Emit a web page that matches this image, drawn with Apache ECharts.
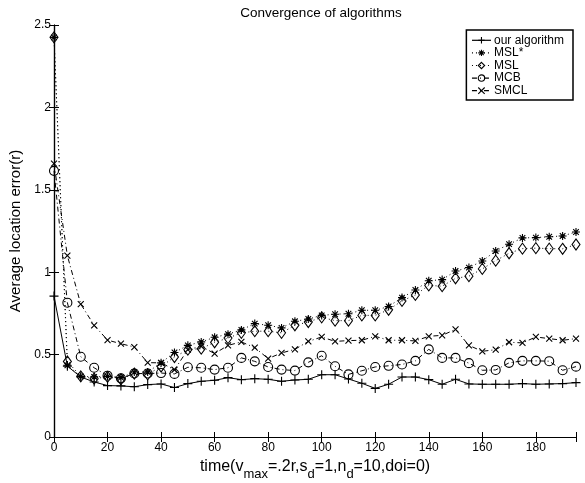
<!DOCTYPE html>
<html>
<head>
<meta charset="utf-8">
<script src="https://cdn.jsdelivr.net/npm/echarts@6/dist/echarts.min.js"></script>
<style>
  html, body { margin: 0; padding: 0; background: #fff; }
  #chart { width: 585px; height: 483px; }
</style>
</head>
<body>
<div id="chart"></div>
<script>
// time steps 0..195
const times = [0, 5, 10, 15, 20, 25, 30, 35, 40, 45, 50, 55, 60, 65, 70, 75, 80, 85, 90, 95,
    100, 105, 110, 115, 120, 125, 130, 135, 140, 145, 150, 155, 160, 165, 170, 175, 180, 185, 190, 195];

const ourAlgorithm = [0.855, 0.43, 0.364, 0.334, 0.312, 0.31, 0.305, 0.318, 0.322, 0.30,
    0.324, 0.338, 0.344, 0.36, 0.348, 0.354, 0.35, 0.338, 0.346, 0.35,
    0.378, 0.378, 0.352, 0.326, 0.295, 0.32, 0.364, 0.364, 0.348, 0.32,
    0.35, 0.322, 0.32, 0.32, 0.32, 0.324, 0.32, 0.322, 0.324, 0.33];

const mslStar = [2.425, 0.435, 0.368, 0.365, 0.368, 0.36, 0.394, 0.394, 0.45, 0.513,
    0.556, 0.577, 0.605, 0.624, 0.65, 0.688, 0.678, 0.662, 0.702, 0.716,
    0.738, 0.745, 0.748, 0.769, 0.769, 0.792, 0.846, 0.892, 0.948, 0.955,
    1.007, 1.028, 1.068, 1.129, 1.17, 1.208, 1.21, 1.215, 1.22, 1.244];

const msl = [2.425, 0.458, 0.368, 0.354, 0.365, 0.35, 0.385, 0.38, 0.428, 0.485,
    0.53, 0.536, 0.575, 0.6, 0.632, 0.642, 0.642, 0.632, 0.678, 0.698,
    0.726, 0.706, 0.706, 0.738, 0.738, 0.772, 0.826, 0.862, 0.92, 0.915,
    0.963, 0.976, 1.02, 1.07, 1.115, 1.143, 1.146, 1.143, 1.142, 1.168];

const mcb = [1.615, 0.815, 0.487, 0.42, 0.372, 0.356, 0.385, 0.385, 0.388, 0.383,
    0.423, 0.42, 0.409, 0.42, 0.48, 0.459, 0.425, 0.409, 0.403, 0.453,
    0.493, 0.429, 0.38, 0.402, 0.425, 0.432, 0.44, 0.462, 0.532, 0.48,
    0.48, 0.448, 0.405, 0.407, 0.45, 0.462, 0.462, 0.46, 0.405, 0.427];

const smcl = [1.659, 1.10, 0.806, 0.678, 0.588, 0.566, 0.546, 0.451, 0.45, 0.408,
    0.53, 0.55, 0.506, 0.556, 0.577, 0.542, 0.476, 0.51, 0.532, 0.58,
    0.607, 0.58, 0.585, 0.587, 0.611, 0.587, 0.587, 0.583, 0.611, 0.617,
    0.653, 0.556, 0.52, 0.53, 0.575, 0.571, 0.607, 0.597, 0.587, 0.597];

const seriesNames = ['our algorithm', 'MSL*', 'MSL', 'MCB', 'SMCL'];

const FONT = '"Liberation Sans", Arial, sans-serif';

const SYM_PLUS = 'path://M0,5L10,5M5,0L5,10';
const SYM_CROSS = 'path://M0,0L10,10M0,10L10,0';
const SYM_STAR = 'path://M5,0L5,10M0,5L10,5M1.5,1.5L8.5,8.5M1.5,8.5L8.5,1.5';

const chart = echarts.init(document.getElementById('chart'), null, { renderer: 'canvas' });

function pairs(vals) {
    return times.map((t, i) => [t, vals[i]]);
}

function makeSeries(name, vals, symbol, size, dash) {
    return {
        name,
        type: 'line',
        data: pairs(vals),
        symbol,
        symbolSize: size,
        showSymbol: true,
        animation: false,
        lineStyle: { color: '#000', width: 1, type: dash },
        itemStyle: { color: 'transparent', borderColor: '#000', borderWidth: 1.1 },
        emphasis: { disabled: true }
    };
}

const axisTick = { inside: true, length: 5, lineStyle: { color: '#000', width: 1 } };
const axisLine = { show: true, lineStyle: { color: '#000', width: 1.2 } };

const option = {
    backgroundColor: '#fff',
    animation: false,
    title: {
        text: 'Convergence of algorithms',
        left: 316,
        textAlign: 'center',
        top: 1,
        textStyle: { fontFamily: FONT, fontSize: 13.5, fontWeight: 'normal', color: '#000' }
    },
    grid: { left: 54, right: 9, top: 25, bottom: 46, outerBoundsMode: 'none' },
    legend: {
        data: seriesNames,
        orient: 'vertical',
        right: 12,
        top: 30,
        itemWidth: 19,
        itemHeight: 8,
        itemGap: 0,
        padding: [4, 9, 3, 5],
        borderColor: '#000',
        borderWidth: 1.5,
        backgroundColor: '#fff',
        itemStyle: { color: 'transparent', borderColor: '#000', borderWidth: 1.1 },
        lineStyle: { color: '#000', width: 1.2 },
        textStyle: { fontFamily: FONT, fontSize: 12, lineHeight: 12.6, color: '#000', padding: [0, 0, 0, -2] },
        selectedMode: false
    },
    xAxis: [
        {
            type: 'value',
            min: 0,
            max: 195,
            interval: 20,
            position: 'bottom',
            name: 'time(v{sub|max}=.2r,s{sub|d}=1,n{sub|d}=10,doi=0)',
            nameLocation: 'middle',
            nameGap: 12,
            nameTextStyle: {
                fontFamily: FONT, fontSize: 16, color: '#000',
                rich: { sub: { fontFamily: FONT, fontSize: 13, color: '#000', padding: [16, 0, 0, 0] } }
            },
            axisLine,
            axisTick,
            splitLine: { show: false },
            axisLabel: {
                fontFamily: FONT, fontSize: 12, color: '#000', margin: 5,
                formatter: (v) => (v % 20 === 0 ? String(v) : '')
            }
        },
        {
            type: 'value',
            min: 0,
            max: 195,
            interval: 20,
            position: 'top',
            axisLine,
            axisTick,
            splitLine: { show: false },
            axisLabel: { show: false }
        }
    ],
    yAxis: [
        {
            type: 'value',
            min: 0,
            max: 2.5,
            interval: 0.5,
            position: 'left',
            name: 'Average location error(r)',
            nameLocation: 'middle',
            nameGap: 17,
            nameTextStyle: { fontFamily: FONT, fontSize: 15, color: '#000' },
            axisLine,
            axisTick,
            splitLine: { show: false },
            axisLabel: { fontFamily: FONT, fontSize: 12, color: '#000', margin: 3 }
        },
        {
            type: 'value',
            min: 0,
            max: 2.5,
            interval: 0.5,
            position: 'right',
            axisLine,
            axisTick,
            splitLine: { show: false },
            axisLabel: { show: false }
        }
    ],
    series: [
        makeSeries('our algorithm', ourAlgorithm, SYM_PLUS, 9, 'solid'),
        makeSeries('MSL*', mslStar, SYM_STAR, 8, [1, 3]),
        makeSeries('MSL', msl, 'diamond', [8, 11], [1, 3]),
        makeSeries('MCB', mcb, 'circle', 9, [5, 3, 1, 3]),
        makeSeries('SMCL', smcl, SYM_CROSS, 6, [5, 3, 1, 3])
    ]
};

chart.setOption(option);
</script>
</body>
</html>
